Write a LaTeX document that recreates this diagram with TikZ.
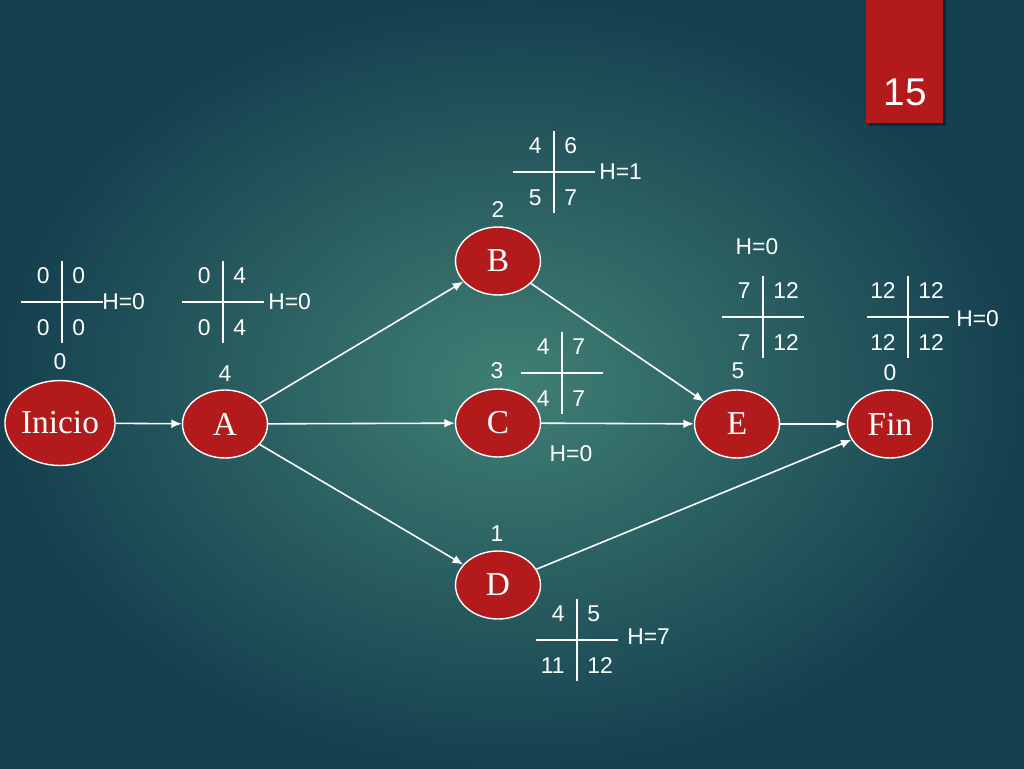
\documentclass[tikz,border=0pt]{standalone}
\usepackage{fontspec}
\setmainfont{Liberation Serif}
\setsansfont{Liberation Sans}
\usetikzlibrary{shapes.geometric,arrows.meta}

\definecolor{fondoin}{HTML}{407F74}
\definecolor{fondoout}{HTML}{15404F}
\definecolor{rojo}{HTML}{B31A1C}

\tikzset{
  evento/.style={ellipse,draw=white,line width=.8pt,fill=rojo,text=white,
    minimum width=1.7cm,minimum height=1.36cm,inner sep=0pt,
    font=\fontsize{19}{19}\selectfont},
  num/.style={text=white,inner sep=0pt,font=\sffamily\fontsize{13}{13}\selectfont},
  flecha/.style={draw=white,line width=.9pt,-{Latex[length=6pt,width=5pt]}},
  cruzline/.style={draw=white,line width=.9pt}
}

% cruz de tiempos: nombre, centro, arriba izq., arriba der., abajo izq., abajo der.
\newcommand{\cruz}[6]{%
  \coordinate (#1) at (#2);
  \draw[cruzline] (#1) ++(0,-41) -- ++(0,82);
  \draw[cruzline] (#1) ++(-41,0) -- ++(82,0);
  \node[num,anchor=east] (#1-ai) at ([shift={(-12,-26)}]#1) {#3};
  \node[num,anchor=west] (#1-ad) at ([shift={(10,-26)}]#1) {#4};
  \node[num,anchor=east] (#1-bi) at ([shift={(-12,26)}]#1) {#5};
  \node[num,anchor=west] (#1-bd) at ([shift={(10,26)}]#1) {#6};
}

\begin{document}
\begin{tikzpicture}[x=.02cm,y=-.02cm]

\shade[inner color=fondoin,outer color=fondoout] (0,0) rectangle (1024,768);
\useasboundingbox (0,0) rectangle (1024,768);

% numero de pagina
\fill[black,opacity=.35] (869,0) rectangle (946,126);
\fill[rojo] (866,0) rectangle (943,123);
\node[num,font=\sffamily\fontsize{22}{22}\selectfont] (pag) at (905,92) {15};

% eventos
\node[evento,minimum width=1.9cm,minimum height=1.7cm] (ini) at (60,423) {Inicio};
\node[evento] (a) at (225,424) {A};
\node[evento] (b) at (498,261) {B};
\node[evento] (c) at (498,423) {C};
\node[evento] (d) at (498,585) {D};
\node[evento] (e) at (737,424) {E};
\node[evento] (fin) at (890,424) {Fin};

% duraciones
\node[num] (ini-t) at (60,362) {0};
\node[num] (a-t) at (225,374) {4};
\node[num] (b-t) at (498,210) {2};
\node[num] (c-t) at (497,371) {3};
\node[num] (d-t) at (497,534) {1};
\node[num] (e-t) at (738,371) {5};
\node[num] (fin-t) at (890,373) {0};

% cruces
\cruz{xini}{62,302}{0}{0}{0}{0}
\cruz{xa}{223,302}{0}{4}{0}{4}
\cruz{xb}{554,172}{4}{6}{5}{7}
\cruz{xc}{562,373}{4}{7}{4}{7}
\cruz{xd}{577,640}{4}{5}{11}{12}
\cruz{xe}{763,317}{7}{12}{7}{12}
\cruz{xfin}{908,317}{12}{12}{12}{12}

% holguras
\node[num,anchor=west] (hini) at (102,302) {H=0};
\node[num,anchor=west] (ha) at (268,302) {H=0};
\node[num,anchor=west] (hb) at (599,172) {H=1};
\node[num] (hc) at (571,454) {H=0};
\node[num,anchor=west] (hd) at (627,637) {H=7};
\node[num] (he) at (757,247) {H=0};
\node[num,anchor=west] (hfin) at (956,319) {H=0};

% actividades
\draw[flecha] (ini) -- (a);
\draw[flecha] (a) -- (b);
\draw[flecha] (a) -- (c);
\draw[flecha] (a) -- (d);
\draw[flecha] (b) -- (e);
\draw[flecha] (c) -- (e);
\draw[flecha] (d) -- (fin);
\draw[flecha] (e) -- (fin);

\end{tikzpicture}
\end{document}
